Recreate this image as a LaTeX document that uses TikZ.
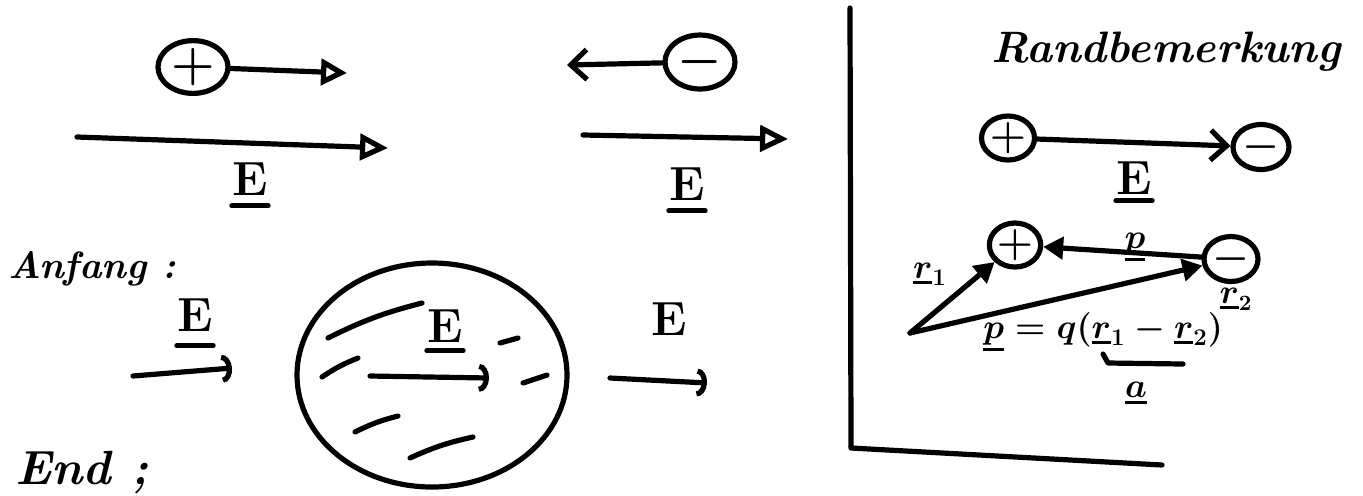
\documentclass[tikz,border=0pt]{standalone}
\usetikzlibrary{arrows.meta,shapes.geometric}
\newcommand\vulaux[2]{\vtop{\hbox{$#1#2$}\kern1.5pt\hrule height 1.4pt}}
\newcommand\vul[1]{\mathord{\mathpalette\vulaux{#1}}}
\begin{document}
\begin{tikzpicture}[x=0.5pt,y=-0.5pt,
  ink/.style={line width=2.6pt,line cap=round,line join=round},
  charge/.style={ellipse,draw,ink,inner sep=0pt,font=\fontsize{26}{26}\selectfont\boldmath},
  elabel/.style={inner sep=0pt,font=\fontsize{24}{24}\selectfont\bfseries},
  mlabel/.style={inner sep=0pt,font=\fontsize{18}{22}\selectfont\boldmath},
  tri/.style={-{Triangle[open,length=14pt,width=13pt]}},
  smalltri/.style={-{Triangle[open,length=13pt,width=13pt]}},
  barb/.style={-{Straight Barb[length=8pt,width=15pt]}},
  hook/.style={-{Arc Barb[length=5pt,width=14pt]}},
  solidtri/.style={-{Triangle[length=10pt,width=11pt]}}]
\useasboundingbox (0,0) rectangle (1363,495);

% ---------- top left: positive charge in field ----------
\node[charge,minimum width=35pt,minimum height=25pt] (p1) at (193,67) {$+$};
\coordinate (a1) at (347,73);
\draw[ink,smalltri] (p1) -- (a1);
\coordinate (f1s) at (77,137);
\coordinate (f1e) at (388,148);
\draw[ink,tri] (f1s) -- (f1e);
\node[elabel] (E1) at (250,179) {E};
\draw[ink] ([yshift=-5pt]E1.south west) -- ([yshift=-5pt]E1.south east);

% ---------- top middle: negative charge in field ----------
\node[charge,minimum width=35pt,minimum height=26pt] (m1) at (700,62) {$-$};
\coordinate (b1) at (567,65);
\draw[ink,barb] (m1) -- (b1);
\coordinate (f2s) at (583,135);
\coordinate (f2e) at (788,139);
\draw[ink,tri] (f2s) -- (f2e);
\node[elabel] (E2) at (687,184) {E};
\draw[ink] ([yshift=-5pt]E2.south west) -- ([yshift=-5pt]E2.south east);

% ---------- frame of the side note ----------
\coordinate (v1) at (850,8);
\coordinate (v2) at (851,448);
\coordinate (v3) at (1162,465);
\draw[ink] (v1) -- (v2) -- (v3);

\node[inner sep=0pt,anchor=base,font=\fontsize{22}{26}\selectfont\bfseries\itshape] (rb) at (1166,62) {Randbemerkung};

\node[charge,minimum width=26.5pt,minimum height=21pt,font=\fontsize{20}{20}\selectfont\boldmath] (pp) at (1008,138) {$+$};
\node[charge,minimum width=28pt,minimum height=20pt,font=\fontsize{20}{20}\selectfont\boldmath] (mm) at (1261,147) {$-$};
\draw[ink,barb] (pp) -- (mm);
\node[elabel] (E5) at (1134,178) {E};
\draw[ink] ([yshift=-3pt]E5.south west) -- ([yshift=-3pt]E5.south east);

% dipole
\node[charge,minimum width=25pt,minimum height=22pt,font=\fontsize{20}{20}\selectfont\boldmath] (pq) at (1015,245) {$+$};
\node[charge,minimum width=27pt,minimum height=21pt,font=\fontsize{20}{20}\selectfont\boldmath] (mq) at (1231,259) {$-$};
\draw[ink,solidtri] (mq) -- (pq);
\node[mlabel,anchor=base] (plbl) at (1135,248) {$\vul{p}$};
\coordinate (O) at (910,333);
\draw[ink,solidtri] (O) -- (pq);
\draw[ink,solidtri] (O) -- (mq);
\node[mlabel] (r1) at (930,274) {$\vul{r}_1$};
\node[mlabel,font=\fontsize{16}{20}\selectfont\boldmath] (r2) at (1236,299) {$\vul{r}_2$};
\node[inner sep=0pt,anchor=base west,font=\fontsize{18}{22}\selectfont\boldmath] (eq) at (983,338)
  {$\vul{p}=q(\vul{r}_1-\vul{r}_2)$};
\coordinate (ub1) at (1103,354);
\coordinate (ub2) at (1108,363);
\coordinate (ub3) at (1183,364);
\draw[ink] (ub1) -- (ub2) -- (ub3);
\node[mlabel,font=\fontsize{16}{20}\selectfont\boldmath] (alab) at (1136,393) {$\vul{a}$};

% ---------- bottom: dielectric sphere ----------
\node[inner sep=0pt,anchor=base west,font=\fontsize{19}{23}\selectfont\bfseries\itshape] (anf) at (8,278) {Anfang :};
\node[elabel] (E3) at (195,315) {E};
\draw[ink] ([yshift=-7pt]E3.south west) -- ([yshift=-7pt]E3.south east);
\coordinate (g1s) at (133,376);
\coordinate (g1e) at (232,368);
\draw[ink,hook] (g1s) -- (g1e);

\node[ellipse,draw,ink,minimum width=135pt,minimum height=112pt] (sph) at (432,375) {};
\node[elabel] (E4) at (445,326) {E};
\draw[ink] ([yshift=-4pt]E4.south west) -- ([yshift=-4pt]E4.south east);
\coordinate (g2s) at (370,376);
\coordinate (g2e) at (489,378);
\draw[ink,hook] (g2s) -- (g2e);
% polarisation strokes
\draw[ink] (328,338) to[bend left=6] (422,303);
\draw[ink] (500,343) -- (518,338);
\draw[ink] (322,377) to[bend left=6] (358,358);
\draw[ink] (523,383) -- (547,375);
\draw[ink] (355,432) to[bend left=6] (398,416);
\draw[ink] (410,458) to[bend left=6] (473,437);

\node[elabel] (E6) at (669,319) {E};
\coordinate (g3s) at (610,378);
\coordinate (g3e) at (707,383);
\draw[ink,hook] (g3s) -- (g3e);

\node[inner sep=0pt,anchor=base west,font=\fontsize{24}{28}\selectfont\bfseries\itshape] (end) at (15,484) {End ;};
\end{tikzpicture}
\end{document}
